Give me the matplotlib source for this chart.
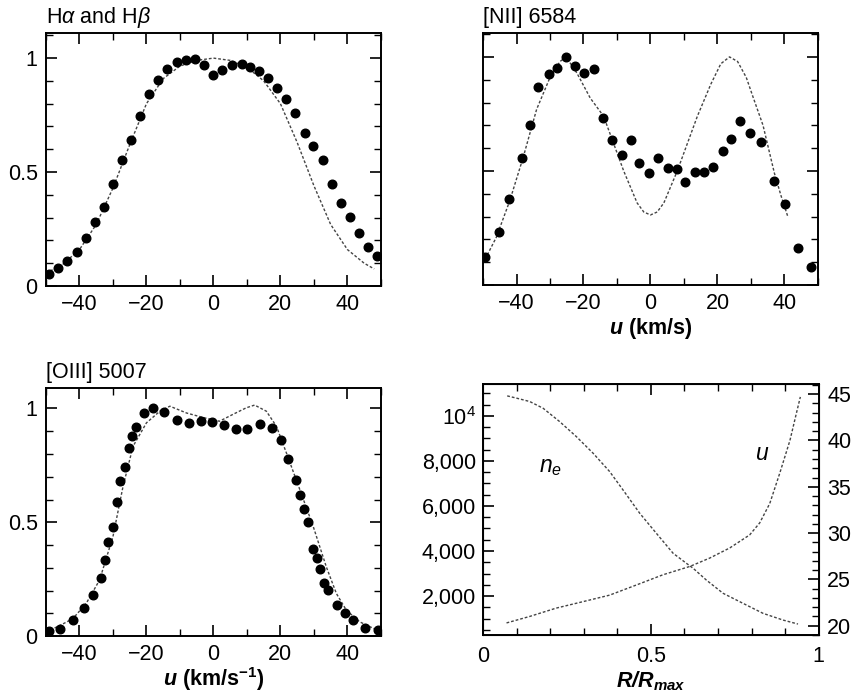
import matplotlib
matplotlib.use("Agg")
import matplotlib.pyplot as plt
from matplotlib.ticker import MultipleLocator, FixedLocator, FixedFormatter

plt.rcParams['font.family'] = ['Liberation Sans', 'DejaVu Sans']
plt.rcParams['mathtext.fontset'] = 'custom'
plt.rcParams['mathtext.rm'] = 'Liberation Sans'
plt.rcParams['mathtext.it'] = 'Liberation Sans:italic'
plt.rcParams['mathtext.bf'] = 'Liberation Sans:bold'
plt.rcParams['mathtext.bfit'] = 'Liberation Sans:italic:bold'
plt.rcParams['axes.unicode_minus'] = True

# ---------------- Data ----------------
# H-alpha and H-beta
ha_obs_u = [-49.1, -46.3, -43.6, -40.8, -38.1, -35.4, -32.7, -30.0, -27.2, -24.6, -21.9, -19.2,
            -16.6, -13.8, -11.0, -8.2, -5.4, -2.7, 0.0, 2.7, 5.6, 8.4, 10.9, 13.7, 16.4, 19.1,
            21.8, 24.4, 27.2, 29.8, 32.6, 35.4, 38.1, 40.7, 43.5, 46.2, 48.9]
ha_obs_i = [0.053, 0.078, 0.110, 0.148, 0.212, 0.283, 0.346, 0.448, 0.551, 0.640, 0.744, 0.843,
            0.902, 0.952, 0.984, 0.990, 0.996, 0.971, 0.924, 0.949, 0.969, 0.974, 0.963, 0.944,
            0.912, 0.867, 0.820, 0.761, 0.671, 0.616, 0.551, 0.448, 0.366, 0.302, 0.234, 0.170, 0.133]
ha_mod_u = [-50, -45, -40, -35, -30, -25, -20, -15, -10, -5, 0, 5, 10, 15, 20, 25, 30, 35, 40, 45, 48]
ha_mod_i = [0.056, 0.095, 0.16, 0.27, 0.43, 0.62, 0.80, 0.91, 0.965, 0.99, 1.0, 0.99, 0.96,
            0.90, 0.80, 0.63, 0.44, 0.27, 0.16, 0.10, 0.075]

# [NII] 6584
n2_obs_u = [-49.3, -45.3, -42.2, -38.3, -36.1, -33.5, -30.4, -28.0, -25.2, -22.4, -19.8, -16.8,
            -14.2, -11.5, -8.4, -5.9, -3.3, -0.5, 2.3, 5.1, 7.9, 10.3, 13.2, 16.0, 18.8, 21.6,
            23.9, 26.8, 29.6, 33.0, 36.9, 40.3, 43.9, 47.8]
n2_obs_i = [0.124, 0.234, 0.375, 0.555, 0.701, 0.869, 0.923, 0.952, 1.0, 0.961, 0.930, 0.946,
            0.730, 0.635, 0.571, 0.635, 0.533, 0.492, 0.555, 0.514, 0.507, 0.453, 0.496, 0.496,
            0.518, 0.588, 0.642, 0.720, 0.667, 0.625, 0.455, 0.355, 0.161, 0.080]
n2_mod_u = [-50, -46, -42, -38, -34, -30, -27, -25.2, -22, -18, -14, -10, -8, -6, -4, -2, 0,
            2, 4, 6, 8, 10, 14, 18, 21, 23.6, 26, 28.6, 30.6, 33.6, 37, 39, 41]
n2_mod_i = [0.095, 0.21, 0.37, 0.56, 0.77, 0.91, 0.98, 1.0, 0.93, 0.82, 0.74, 0.58, 0.50,
            0.43, 0.36, 0.32, 0.307, 0.32, 0.36, 0.43, 0.50, 0.58, 0.74, 0.88, 0.97, 1.0,
            0.98, 0.91, 0.825, 0.70, 0.49, 0.39, 0.30]

# [OIII] 5007
o3_obs_u = [-49.2, -45.7, -42.0, -38.5, -36.0, -33.5, -32.5, -31.4, -29.9, -28.9, -27.9, -26.5,
            -25.3, -24.3, -23.1, -20.7, -18.1, -14.7, -10.9, -7.4, -3.8, -0.4, 3.3, 6.8, 10.1,
            14.0, 17.6, 20.1, 22.4, 24.6, 25.8, 27.0, 28.3, 29.6, 30.8, 31.9, 33.0, 34.3, 36.9,
            39.2, 41.7, 45.4, 49.2]
o3_obs_i = [0.021, 0.032, 0.069, 0.124, 0.179, 0.257, 0.334, 0.415, 0.481, 0.588, 0.682, 0.743,
            0.826, 0.878, 0.919, 0.978, 1.003, 0.985, 0.949, 0.937, 0.946, 0.941, 0.926, 0.910,
            0.912, 0.934, 0.916, 0.860, 0.779, 0.687, 0.621, 0.557, 0.499, 0.382, 0.344, 0.294,
            0.231, 0.204, 0.135, 0.099, 0.072, 0.037, 0.025]
o3_mod_u = [-50, -46, -42, -38, -34, -30, -27, -24, -20, -16, -13, -8, -3, 1.8, 5.8, 9.8, 12.3,
            15.8, 18.8, 21.8, 25.8, 29.8, 33.7, 36.7, 39.7, 43.7, 50]
o3_mod_i = [0.018, 0.045, 0.076, 0.143, 0.246, 0.437, 0.657, 0.834, 0.937, 0.988, 1.01, 0.98,
            0.96, 0.944, 0.974, 1.003, 1.015, 0.988, 0.922, 0.804, 0.643, 0.481, 0.304, 0.187,
            0.113, 0.062, 0.018]

# Density and velocity profiles
ne_r = [0.072, 0.101, 0.139, 0.179, 0.228, 0.278, 0.328, 0.377, 0.417, 0.467, 0.516, 0.566,
        0.606, 0.626, 0.665, 0.715, 0.775, 0.834, 0.894, 0.938]
ne_val = [10890, 10785, 10640, 10340, 9750, 9080, 8340, 7530, 6710, 5670, 4790, 3900, 3450,
          3230, 2710, 2120, 1670, 1230, 930, 755]
u_r = [0.07, 0.139, 0.218, 0.298, 0.377, 0.457, 0.536, 0.616, 0.675, 0.735, 0.794, 0.824,
       0.854, 0.884, 0.914, 0.933, 0.945]
u_val = [20.3, 21.0, 21.9, 22.6, 23.3, 24.4, 25.5, 26.4, 27.3, 28.4, 29.8, 31.1, 33.2, 36.5,
         40.0, 42.9, 44.7]

u_ticks = [-40, -20, 0, 20, 40]
u_ticklabels = ['\u221240', '\u221220', '0', '20', '40']
i_ticks = [0, 0.5, 1]
i_ticklabels = ['0', '0.5', '1']
ne_ticks = [2000, 4000, 6000, 8000, 10000]
ne_ticklabels = ['2,000', '4,000', '6,000', '8,000', '$10^4$']
r_ticks = [0, 0.5, 1]
r_ticklabels = ['0', '0.5', '1']
uv_ticks = [20, 25, 30, 35, 40, 45]

# ---------------- Figure ----------------
fig = plt.figure(figsize=(8.61, 7.00), dpi=100)
FS = 15.5
LINE = dict(color='#444444', lw=1.0, linestyle=(0, (2, 1.4)))
DOT = dict(linestyle='none', marker='o', ms=6.2, color='black', mec='black')


def style(ax, labels_y=True):
    ax.tick_params(which='both', direction='in', top=True, right=True, labelsize=FS)
    ax.tick_params(which='major', length=8, width=1.2, pad=6)
    ax.tick_params(which='minor', length=5, width=1.0)
    for s in ax.spines.values():
        s.set_linewidth(1.4)
    ax.set_xlim(-50, 50)
    ax.xaxis.set_major_locator(FixedLocator(u_ticks))
    ax.xaxis.set_major_formatter(FixedFormatter(u_ticklabels))
    ax.xaxis.set_minor_locator(MultipleLocator(10))
    ax.yaxis.set_major_locator(FixedLocator(i_ticks))
    ax.yaxis.set_minor_locator(MultipleLocator(0.1))
    if labels_y:
        ax.yaxis.set_major_formatter(FixedFormatter(i_ticklabels))
    else:
        ax.tick_params(axis='y', labelleft=False)


def title(ax, s):
    bb = ax.get_position()
    fig.text(bb.x0, bb.y1 + 10 / 700, s, fontsize=FS, ha='left', va='baseline')


ax1 = fig.add_axes([0.0534, 0.5914, 0.389, 0.3614])
ax1.plot(ha_mod_u, ha_mod_i, **LINE)
ax1.plot(ha_obs_u, ha_obs_i, **DOT)
style(ax1)
ax1.set_ylim(0, 1.11)
title(ax1, r'H$\alpha$ and H$\beta$')

ax2 = fig.add_axes([0.561, 0.5929, 0.389, 0.360])
ax2.plot(n2_mod_u, n2_mod_i, **LINE)
ax2.plot(n2_obs_u, n2_obs_i, **DOT)
style(ax2, labels_y=False)
ax2.set_ylim(0, 1.105)
title(ax2, '[NII] 6584')
ax2.set_xlabel(r'$\mathbfit{u}$ (km/s)', fontsize=FS, fontweight='bold', labelpad=1)

ax3 = fig.add_axes([0.0534, 0.0914, 0.389, 0.3543])
ax3.plot(o3_mod_u, o3_mod_i, **LINE)
ax3.plot(o3_obs_u, o3_obs_i, **DOT)
style(ax3)
ax3.set_ylim(0, 1.09)
title(ax3, '[OIII] 5007')
ax3.set_xlabel(r'$\mathbfit{u}$ (km/s$^{\mathbf{-1}}$)', fontsize=FS, fontweight='bold',
               labelpad=0)

ax4 = fig.add_axes([0.561, 0.0929, 0.390, 0.3586])
ax4.plot(ne_r, ne_val, **LINE)
ax4.set_xlim(0, 1)
ax4.set_ylim(270, 11420)
ax4.xaxis.set_major_locator(FixedLocator(r_ticks))
ax4.xaxis.set_major_formatter(FixedFormatter(r_ticklabels))
ax4.xaxis.set_minor_locator(MultipleLocator(0.1))
ax4.yaxis.set_major_locator(FixedLocator(ne_ticks))
ax4.yaxis.set_major_formatter(FixedFormatter(ne_ticklabels))
ax4.yaxis.set_minor_locator(MultipleLocator(500))
ax4.tick_params(which='both', direction='in', top=True, right=False, labelsize=FS)
ax4.tick_params(which='major', length=8, width=1.2, pad=5)
ax4.tick_params(which='minor', length=5, width=1.0)
ax4.tick_params(axis='x', which='major', pad=8)
for s in ax4.spines.values():
    s.set_linewidth(1.4)
ax4.set_xlabel(r'$\mathbfit{R/R_{max}}$', fontsize=FS, labelpad=2)
ax4.text(0.20, 7750, r'$n_e$', fontsize=FS + 1, ha='center', va='center')

ax5 = ax4.twinx()
ax5.plot(u_r, u_val, **LINE)
ax5.set_ylim(19.0, 46.1)
ax5.yaxis.set_major_locator(FixedLocator(uv_ticks))
ax5.yaxis.set_minor_locator(MultipleLocator(1))
ax5.tick_params(which='both', direction='in', labelsize=FS)
ax5.tick_params(which='major', length=8, width=1.2, pad=6)
ax5.tick_params(which='minor', length=5, width=1.0)
ax5.text(0.83, 38.6, r'$u$', fontsize=FS + 1, ha='center', va='center')

fig.savefig('out.png', dpi=100)
